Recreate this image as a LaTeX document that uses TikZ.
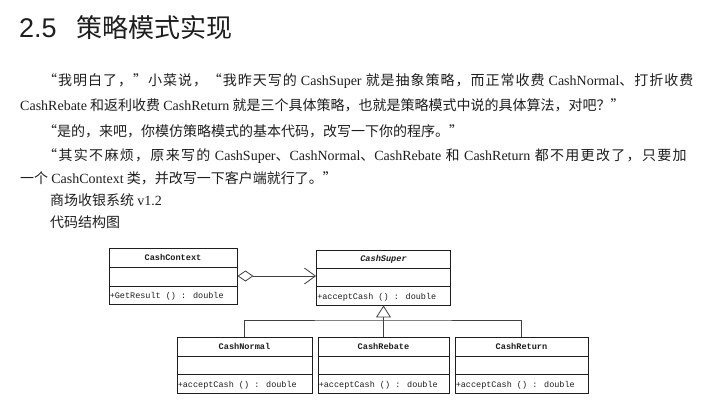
\documentclass[tikz,border=0pt]{standalone}
\usepackage{fontspec}
\setmainfont{Noto Sans CJK SC}
\newfontfamily\latin{Liberation Serif}
\newfontfamily\arialf{Liberation Sans}
\newfontfamily\monof{Liberation Mono}
\usetikzlibrary{arrows.meta,calc}
\newcommand\lt[1]{{\latin #1}}
\definecolor{ink}{HTML}{1E1E1E}
\tikzset{
  txt/.style={anchor=base west, inner sep=0pt, font=\fontsize{14}{16}\selectfont, text=ink},
  cls/.style={draw=ink, line width=0.9pt, rectangle, inner sep=0pt},
  cname/.style={font=\monof\bfseries\fontsize{8.6}{10}\selectfont, text=ink, inner sep=0pt},
  cop/.style={font=\monof\fontsize{8.5}{10}\selectfont, text=ink, inner sep=1pt, anchor=west},
  divider/.style={draw=ink, line width=0.8pt},
  conn/.style={draw=ink!85, line width=0.7pt}
}
\begin{document}
\begin{tikzpicture}[x=1pt,y=-1pt]
\useasboundingbox[fill=white] (0,0) rectangle (712,413);
% title
\node[anchor=base west, inner sep=0pt, text=ink] (title) at (19,37)
  {{\arialf\fontsize{27}{30}\selectfont 2.5}\hspace{20pt}{\fontsize{26}{30}\selectfont 策略模式实现}};
% paragraphs
\node[txt] (l1) at (43,85) {\addfontfeatures{LetterSpace=7}“我明白了，”小菜说，“我昨天写的 \lt{CashSuper} 就是抽象策略，而正常收费 \lt{CashNormal}、打折收费};
\node[txt] (l2) at (20,110) {\lt{CashRebate} 和返利收费 \lt{CashReturn} 就是三个具体策略，也就是策略模式中说的具体算法，对吧？”};
\node[txt] (l3) at (43,136) {“是的，来吧，你模仿策略模式的基本代码，改写一下你的程序。”};
\node[txt] (l4) at (43,160) {\addfontfeatures{LetterSpace=9.5}“其实不麻烦，原来写的 \lt{CashSuper}、\lt{CashNormal}、\lt{CashRebate} 和 \lt{CashReturn} 都不用更改了，只要加};
\node[txt] (l5) at (20,183) {一个 \lt{CashContext} 类，并改写一下客户端就行了。”};
\node[txt] (l6) at (50,205) {商场收银系统 \lt{v1.2}};
\node[txt] (l7) at (50,227) {代码结构图};
% classes
\node[cls, minimum width=128pt, minimum height=56pt] (ctx) at (173,276) {};
\node[cls, minimum width=134pt, minimum height=55pt] (sup) at (383.5,277.5) {};
\node[cls, minimum width=135pt, minimum height=56pt] (nor) at (244.5,365) {};
\node[cls, minimum width=131pt, minimum height=56pt] (reb) at (383.5,365) {};
\node[cls, minimum width=133pt, minimum height=56pt] (ret) at (521.5,365) {};
% dividers
\foreach \c/\a/\b in {ctx/20/39, sup/19/37, nor/20/38, reb/20/38, ret/20/38}{
  \draw[divider] ($(\c.north west)+(0,\a)$) -- ($(\c.north east)+(0,\a)$);
  \draw[divider] ($(\c.north west)+(0,\b)$) -- ($(\c.north east)+(0,\b)$);
}
% names
\node[cname] at ($(ctx.north)+(0,10)$) {CashContext};
\node[cname, font=\monof\bfseries\itshape\fontsize{8.6}{10}\selectfont] at ($(sup.north)+(0,9.5)$) {CashSuper};
\node[cname] at ($(nor.north)+(0,10)$) {CashNormal};
\node[cname] at ($(reb.north)+(0,10)$) {CashRebate};
\node[cname] at ($(ret.north)+(0,10)$) {CashReturn};
% operations
\node[cop] at ($(ctx.south west)+(0,-8.5)$) {+GetResult () : double};
\node[cop] at ($(sup.south west)+(0,-8.5)$) {+acceptCash () : double};
\node[cop] at ($(nor.south west)+(0,-8.5)$) {+acceptCash () : double};
\node[cop] at ($(reb.south west)+(0,-8.5)$) {+acceptCash () : double};
\node[cop] at ($(ret.south west)+(0,-8.5)$) {+acceptCash () : double};
% aggregation
\draw[conn, {Diamond[open,length=16pt,width=11pt,line width=0.8pt]}-{Straight Barb[length=11pt,width=16pt,line width=0.8pt]}]
  (ctx.east) -- (sup.west |- ctx.east);
% generalization
\coordinate (j) at (383.5,320);
\draw[conn] (nor.north) |- (j) -| (ret.north);
\draw[conn, -{Triangle[open,length=12pt,width=15pt,line width=0.8pt]}] (reb.north) -- (sup.south);
\end{tikzpicture}
\end{document}
